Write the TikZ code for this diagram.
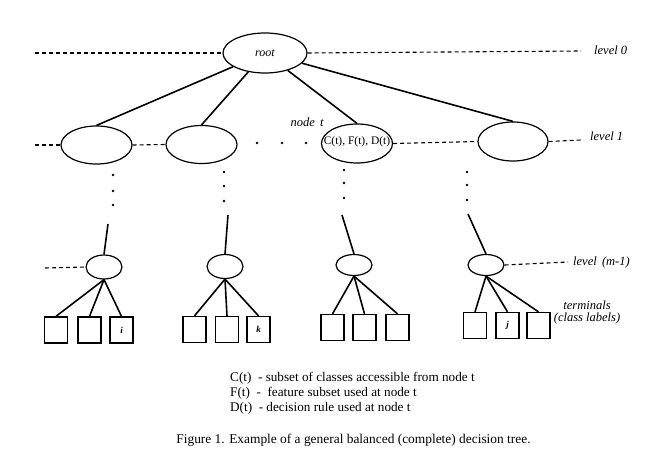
\documentclass[tikz,border=0pt]{standalone}
\usepackage{fontspec}
\setmainfont{Liberation Serif}
\usetikzlibrary{shapes.geometric}

\begin{document}
\begin{tikzpicture}[x=1pt,y=-1pt,
    ell/.style={draw,ellipse,line width=1.2pt,inner sep=0pt},
    term/.style={draw,rectangle,line width=1.3pt,minimum width=23pt,minimum height=26pt,inner sep=0pt,font=\fontsize{9}{10}\selectfont\bfseries\itshape},
    edge/.style={line width=1.6pt},
    lvl/.style={line width=1.1pt,dash pattern=on 4pt off 3pt},
    lab/.style={font=\fontsize{12.5}{13}\selectfont\itshape,inner sep=0pt}]
    \useasboundingbox (0,0) rectangle (651,461);

    % level 0 and level 1
    \node[ell,minimum width=84pt,minimum height=40pt,lab,font=\fontsize{12}{13}\selectfont\itshape] (root) at (265,53) {root};
    \node[ell,minimum width=71pt,minimum height=38pt] (n1) at (96.5,145) {};
    \node[ell,minimum width=71pt,minimum height=38pt] (n2) at (201.5,144.5) {};
    \node[ell,minimum width=71pt,minimum height=39pt,font=\fontsize{11.5}{12}\selectfont] (nt) at (357,143.5) {};
    \node[font=\fontsize{11.5}{12}\selectfont,inner sep=0pt] (ntxt) at (357,142) {C(t), F(t), D(t)};
    \node[ell,minimum width=70pt,minimum height=39pt] (n4) at (513,141.5) {};

    \draw[edge] (root) -- (n1.north);
    \draw[edge] (root) -- (n2.north);
    \draw[edge] (root) -- (nt.north);
    \draw[edge] (root) -- (n4.north);

    \coordinate (l0a) at (35,53);
    \coordinate (l0b) at (581,51);
    \draw[lvl] (l0a) -- (root.west);
    \draw[lvl] (root.east) -- (l0b);
    \node[lab,anchor=west] (lev0) at (594,50) {level 0};

    \coordinate (l1a) at (35,145);
    \coordinate (l1b) at (581,140);
    \draw[lvl] (l1a) -- (n1.west);
    \draw[lvl] (n1.east) -- (n2.west);
    \draw[lvl] (nt.east) -- (n4.west);
    \draw[lvl] (n4.east) -- (l1b);
    \node[lab,anchor=west] (lev1) at (590,136) {level 1};
    \node[lab] (tlab) at (307,122) {node\, t};

    \foreach \x in {257,282,306} \fill (\x,143) circle (1.4pt);
    \foreach \y in {175,191,205} \fill (113,\y) circle (1.4pt);
    \foreach \y in {172,186,201} \fill (224,\y) circle (1.4pt);
    \foreach \y in {170,183,198} \fill (344,\y) circle (1.4pt);
    \foreach \y in {172,185,200} \fill (467,\y) circle (1.4pt);

    % level (m-1)
    \node[ell,minimum width=36pt,minimum height=24pt] (m1) at (104,267) {};
    \node[ell,minimum width=36pt,minimum height=24pt] (m2) at (225,266.5) {};
    \node[ell,minimum width=36pt,minimum height=21pt] (m3) at (354,265) {};
    \node[ell,minimum width=36pt,minimum height=21pt] (m4) at (486,265) {};

    \coordinate (u1) at (108,224);
    \coordinate (u2) at (228,215);
    \coordinate (u3) at (342,215);
    \coordinate (u4) at (468,214);
    \draw[edge] (u1) -- (m1.north);
    \draw[edge] (u2) -- (m2.north);
    \draw[edge] (u3) -- (m3.north);
    \draw[edge] (u4) -- (m4.north);

    \coordinate (lma) at (45,268);
    \coordinate (lmb) at (568,262);
    \draw[lvl] (lma) -- (m1.west);
    \draw[lvl] (m4.east) -- (lmb);
    \node[lab,anchor=west] (levm) at (573,262) {level\, (m-1)};

    % terminals
    \node[term] (t11) at (56,330) {};
    \node[term] (t12) at (89.5,330) {};
    \node[term] (t13) at (121.5,330) {i};
    \node[term] (t21) at (194.5,329.5) {};
    \node[term] (t22) at (227,329.5) {};
    \node[term] (t23) at (258.5,329.5) {k};
    \node[term] (t31) at (332.5,327.5) {};
    \node[term] (t32) at (364.5,327.5) {};
    \node[term] (t33) at (397.5,327.5) {};
    \node[term] (t41) at (475,325.5) {};
    \node[term] (t42) at (507.5,325.5) {j};
    \node[term] (t43) at (538.5,325.5) {};

    \draw[edge] (m1.south) -- (t11.north);
    \draw[edge] (m1.south) -- (t12.north);
    \draw[edge] (m1.south) -- (t13.north);
    \draw[edge] (m2.south) -- (t21.north);
    \draw[edge] (m2.south) -- (t22.north);
    \draw[edge] (m2.south) -- (t23.north);
    \draw[edge] (m3.south) -- (t31.north);
    \draw[edge] (m3.south) -- (t32.north);
    \draw[edge] (m3.south) -- (t33.north);
    \draw[edge] (m4.south) -- (t41.north);
    \draw[edge] (m4.south) -- (t42.north);
    \draw[edge] (m4.south) -- (t43.north);

    \node[lab,align=center,font=\fontsize{12.5}{12}\selectfont\itshape] (terms) at (587,312) {terminals\\(class labels)};

    % legend and caption
    \node[anchor=north west,align=left,inner sep=0pt,font=\fontsize{13.2}{15}\selectfont] (legend) at (230,372)
      {C(t)\ \ - subset of classes accessible from node t\\
       F(t)\ \ -\ \ feature subset used at node t\\
       D(t)\ \ - decision rule used at node t};
    \node[inner sep=0pt,font=\fontsize{13.4}{14}\selectfont] (cap) at (353.5,440)
      {Figure 1. Example of a general balanced (complete) decision tree.};
\end{tikzpicture}
\end{document}
